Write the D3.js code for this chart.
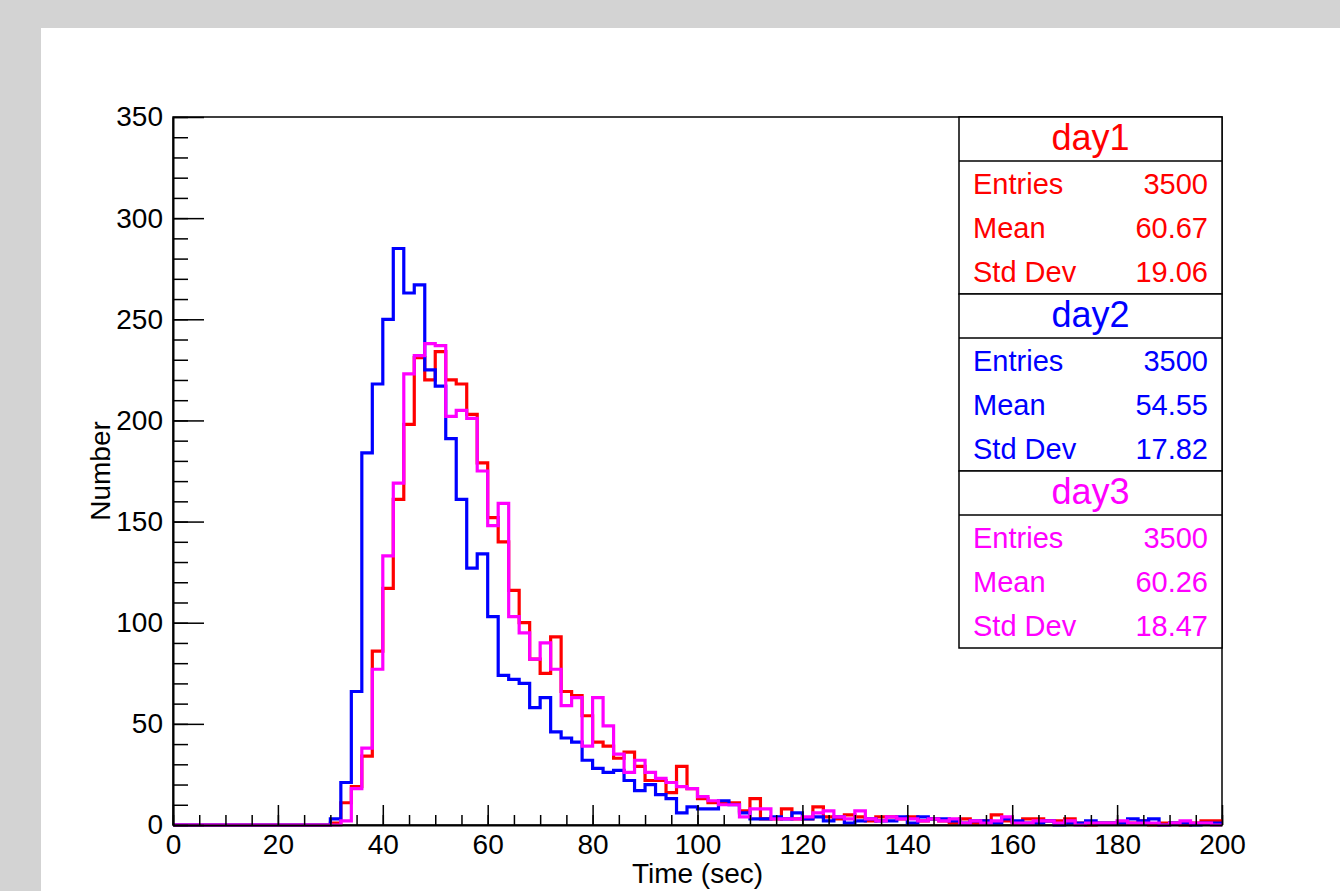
<!DOCTYPE html>
<html>
<head>
<meta charset="utf-8">
<script src="https://cdn.jsdelivr.net/npm/d3@7"></script>
<style>
  body { margin: 0; padding: 0; background: #d3d3d3; }
  svg { display: block; font-family: "Liberation Sans", Arial, Helvetica, sans-serif; }
</style>
</head>
<body>
<div id="chart"></div>
<script>
// bin edges: 100 bins of 2 sec from 0 to 200
var bin_width = 2;
var n_bins = 100;

var day1_counts = [
    0, 0, 0, 0, 0, 0, 0, 0, 0, 0, 0, 0, 0, 0, 0, 1, 11, 19, 34, 86,
    117, 161, 198, 231, 220, 234, 220, 218, 203, 179, 152, 140, 116, 100, 82, 75, 93, 66, 64, 54,
    41, 39, 33, 36, 29, 22, 22, 16, 29, 18, 13, 11, 11, 11, 7, 13, 3, 3, 8, 3,
    3, 9, 4, 3, 5, 4, 2, 4, 4, 3, 4, 2, 3, 2, 1, 3, 1, 2, 5, 2,
    1, 3, 3, 2, 2, 3, 1, 0, 1, 1, 1, 1, 2, 0, 1, 1, 0, 1, 2, 2
];
var day2_counts = [
    0, 0, 0, 0, 0, 0, 0, 0, 0, 0, 0, 0, 0, 0, 0, 3, 21, 66, 184, 218,
    250, 285, 263, 267, 225, 217, 191, 161, 127, 134, 103, 74, 72, 70, 58, 63, 46, 43, 41, 32,
    28, 26, 27, 22, 17, 20, 15, 13, 6, 9, 8, 8, 12, 10, 6, 3, 3, 4, 3, 6,
    3, 4, 2, 4, 1, 2, 3, 2, 2, 4, 1, 4, 3, 3, 2, 1, 2, 2, 1, 3,
    2, 1, 1, 2, 0, 1, 1, 2, 1, 1, 1, 3, 2, 3, 0, 1, 1, 0, 1, 1
];
var day3_counts = [
    0, 0, 0, 0, 0, 0, 0, 0, 0, 0, 0, 0, 0, 0, 0, 0, 2, 18, 38, 77,
    133, 169, 223, 232, 238, 237, 202, 205, 201, 175, 148, 159, 103, 95, 82, 90, 77, 59, 63, 39,
    63, 49, 35, 26, 32, 26, 23, 21, 19, 18, 14, 12, 10, 10, 4, 8, 8, 3, 3, 3,
    4, 6, 7, 4, 3, 7, 3, 2, 4, 3, 3, 2, 3, 2, 3, 1, 2, 1, 2, 4,
    1, 1, 2, 2, 1, 2, 0, 1, 1, 1, 2, 1, 1, 1, 0, 1, 2, 1, 1, 0
];

var series_names = ["day1", "day2", "day3"];
var series_entries = ["3500", "3500", "3500"];
var series_means = ["60.67", "54.55", "60.26"];
var series_stddevs = ["19.06", "17.82", "18.47"];
var series_colours = ["#ff0000", "#0000ff", "#ff00ff"];

var x_ticks = [0, 20, 40, 60, 80, 100, 120, 140, 160, 180, 200];
var y_ticks = [0, 50, 100, 150, 200, 250, 300, 350];

var W = 1340, H = 891;
var svg = d3.select("#chart").append("svg").attr("width", W).attr("height", H);

svg.append("rect").attr("x", 0).attr("y", 0).attr("width", W).attr("height", H).attr("fill", "#d3d3d3");
svg.append("rect").attr("x", 41).attr("y", 28).attr("width", W - 41).attr("height", H - 28).attr("fill", "#ffffff");

var x = d3.scaleLinear().domain([0, 200]).range([173, 1222]);
var y = d3.scaleLinear().domain([0, 350]).range([825, 117]);

// frame
svg.append("rect")
        .attr("x", x(0)).attr("y", y(350))
        .attr("width", x(200) - x(0)).attr("height", y(0) - y(350))
        .attr("fill", "none").attr("stroke", "#000").attr("stroke-width", 1.5);

// histograms
var all_counts = [day1_counts, day2_counts, day3_counts];
var step_line = d3.line()
        .x(function (d) { return x(d[0]); })
        .y(function (d) { return y(d[1]); })
        .curve(d3.curveStepAfter);

all_counts.forEach(function (counts, k) {
    var pts = counts.map(function (v, i) { return [i * bin_width, v]; });
    pts.push([n_bins * bin_width, counts[counts.length - 1]]);
    svg.append("path")
            .attr("d", step_line(pts))
            .attr("fill", "none")
            .attr("stroke", series_colours[k])
            .attr("stroke-width", 3.2);
});

// y axis - minor ticks
svg.append("g").attr("transform", "translate(" + x(0) + ",0)")
        .call(d3.axisLeft(y).tickValues(d3.range(0, 351, 10)).tickSizeInner(-15).tickSizeOuter(0).tickFormat(""))
        .call(function (g) { g.selectAll("line").attr("stroke", "#000").attr("stroke-width", 1.5); g.select(".domain").remove(); });
// y axis - major ticks + labels
svg.append("g").attr("transform", "translate(" + x(0) + ",0)")
        .call(d3.axisLeft(y).tickValues(y_ticks).tickSizeInner(-31).tickSizeOuter(0).tickPadding(10))
        .call(function (g) {
            g.selectAll("line").attr("stroke", "#000").attr("stroke-width", 1.5);
            g.select(".domain").attr("stroke", "#000").attr("stroke-width", 2);
            g.selectAll("text").attr("font-size", 28).attr("fill", "#000")
                    .attr("font-family", "'Liberation Sans', Arial, sans-serif");
        });

// x axis - minor ticks
svg.append("g").attr("transform", "translate(0," + y(0) + ")")
        .call(d3.axisBottom(x).tickValues(d3.range(0, 201, 5)).tickSizeInner(-10).tickSizeOuter(0).tickFormat(""))
        .call(function (g) { g.selectAll("line").attr("stroke", "#000").attr("stroke-width", 1.5); g.select(".domain").remove(); });
// x axis - major ticks + labels
svg.append("g").attr("transform", "translate(0," + y(0) + ")")
        .call(d3.axisBottom(x).tickValues(x_ticks).tickSizeInner(-20).tickSizeOuter(0).tickPadding(9))
        .call(function (g) {
            g.selectAll("line").attr("stroke", "#000").attr("stroke-width", 1.5);
            g.select(".domain").attr("stroke", "#000").attr("stroke-width", 2);
            g.selectAll("text").attr("font-size", 28).attr("fill", "#000")
                    .attr("font-family", "'Liberation Sans', Arial, sans-serif");
        });

// axis titles
svg.append("text")
        .attr("x", (x(0) + x(200)) / 2).attr("y", 883)
        .attr("text-anchor", "middle").attr("font-size", 28)
        .text("Time (sec)");
svg.append("text")
        .attr("transform", "translate(110," + ((y(0) + y(350)) / 2) + ") rotate(-90)")
        .attr("text-anchor", "middle").attr("font-size", 28)
        .text("Number");

// stats boxes
var box_x0 = 959, box_x1 = x(200), box_top = y(350);
var title_h = 44, stats_h = 133;
var sec_h = title_h + stats_h;

series_names.forEach(function (name, k) {
    var top = box_top + k * sec_h;
    var col = series_colours[k];
    var g = svg.append("g");
    g.append("rect").attr("x", box_x0).attr("y", top).attr("width", box_x1 - box_x0).attr("height", sec_h)
            .attr("fill", "#fff").attr("stroke", "#000").attr("stroke-width", 1.5);
    g.append("line").attr("x1", box_x0).attr("x2", box_x1).attr("y1", top + title_h).attr("y2", top + title_h)
            .attr("stroke", "#000").attr("stroke-width", 1.5);
    g.append("text").attr("x", (box_x0 + box_x1) / 2).attr("y", top + 33)
            .attr("text-anchor", "middle").attr("font-size", 36).attr("fill", col).text(name);

    var rows = [["Entries", series_entries[k]], ["Mean", series_means[k]], ["Std Dev", series_stddevs[k]]];
    rows.forEach(function (r, j) {
        var base = top + title_h + stats_h / 3 * (j + 0.5) + 10.5;
        g.append("text").attr("x", 973).attr("y", base).attr("font-size", 29).attr("fill", col).text(r[0]);
        g.append("text").attr("x", 1208).attr("y", base).attr("text-anchor", "end")
                .attr("font-size", 29).attr("fill", col).text(r[1]);
    });
});
</script>
</body>
</html>
